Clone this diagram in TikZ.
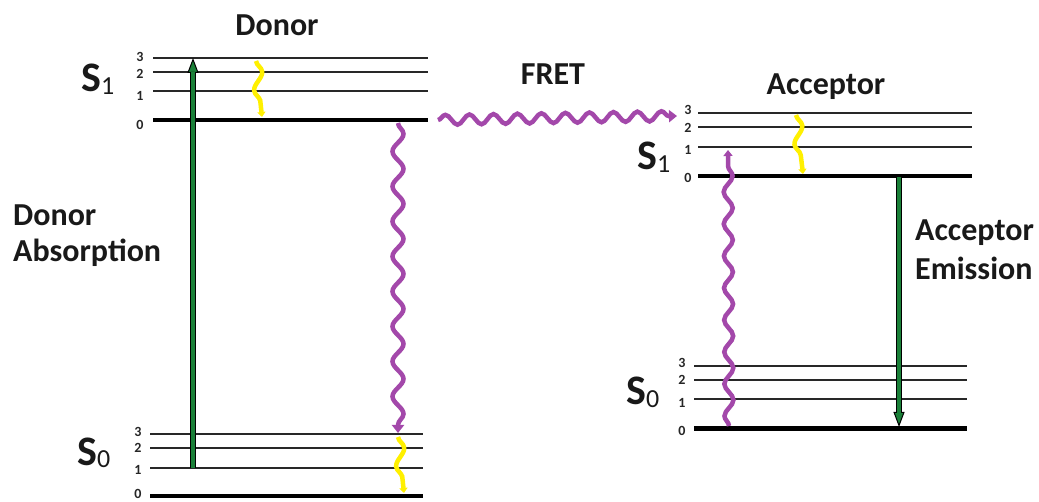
\documentclass[tikz,border=0pt]{standalone}
\usepackage{fontspec}
\setmainfont{Carlito}
\usetikzlibrary{arrows.meta,decorations.pathmorphing}

\definecolor{wavepurple}{RGB}{163,72,170}
\definecolor{vibyellow}{RGB}{255,240,0}
\definecolor{absgreen}{RGB}{26,128,56}
\definecolor{levelgray}{RGB}{40,40,40}

\tikzset{
  lvl0/.style={draw=black, line width=4.5pt},
  lvl1/.style={draw=levelgray, line width=2.2pt},
  lvl2/.style={lvl1},
  lvl3/.style={lvl1},
  vnum/.style={font=\fontsize{14}{14}\selectfont\bfseries, inner sep=0pt, text=black!85},
  slabel/.style={font=\fontsize{42}{42}\selectfont\bfseries, inner sep=0pt, anchor=base west, text=black!90},
  title/.style={font=\fontsize{32}{38}\selectfont\bfseries, inner sep=0pt, text=black!90},
  photon/.style={draw=wavepurple, line width=4.5pt, decorate,
    decoration={snake, amplitude=5.5pt, segment length=35pt, post length=7pt},
    -{Triangle[length=8pt,width=12pt]}},
  fretwave/.style={photon, decoration={snake, amplitude=5pt, segment length=24pt, post length=7pt}},
  accwave/.style={photon, decoration={snake, amplitude=4.5pt, segment length=32pt, post length=6pt},
    -{Triangle[length=6pt,width=9pt]}},
  relax/.style={draw=vibyellow, line width=4.5pt, decorate,
    decoration={snake, amplitude=5pt, segment length=36pt, post length=4pt},
    -{Triangle[length=5pt,width=8pt]}},
  greenedge/.style={draw=black, line width=5.5pt,
    -{Triangle[length=15pt,width=11pt,fill=absgreen,line width=1pt]}},
  greencore/.style={draw=absgreen, line width=3.2pt, shorten >=14pt},
}

\newcommand{\lvlsub}[2]{#1\raisebox{-2.5pt}{\mdseries\fontsize{26}{26}\selectfont #2}}

\begin{document}
\begin{tikzpicture}[x=1pt,y=-1pt]
\fill[white] (0,0) rectangle (1039,502);
\path[use as bounding box] (0,0) rectangle (1039,502);

% ---------------- donor ----------------
\foreach \n/\y/\ny in {0/120/125,1/91/96,2/72.3/74,3/58.3/57} {
  \coordinate (DS1-\n-w) at (153,\y);
  \coordinate (DS1-\n-e) at (428,\y);
  \draw[lvl\n] (DS1-\n-w) -- (DS1-\n-e);
  \node[vnum] (DS1-\n-num) at (140,\ny) {\n};
}
\foreach \n/\y/\ny in {0/496/494,1/467.7/470,2/448.3/448,3/434.3/432} {
  \coordinate (DS0-\n-w) at (150,\y);
  \coordinate (DS0-\n-e) at (423,\y);
  \draw[lvl\n] (DS0-\n-w) -- (DS0-\n-e);
  \node[vnum] (DS0-\n-num) at (138,\ny) {\n};
}
\node[slabel] (DS1) at (81,92) {\lvlsub{S}{1}};
\node[slabel] (DS0) at (77,465) {\lvlsub{S}{0}};

\node[title, anchor=base] (donor) at (277,36) {Donor};
\node[title, anchor=base west, align=left] (donorabs) at (13,262)
  {Donor\\[-1.3pt]Absorption};

% ---------------- acceptor ----------------
\foreach \n/\y/\ny in {0/176/178,1/146.7/150,2/127.3/128,3/112.7/110} {
  \coordinate (AS1-\n-w) at (698,\y);
  \coordinate (AS1-\n-e) at (972,\y);
  \draw[lvl\n] (AS1-\n-w) -- (AS1-\n-e);
  \node[vnum] (AS1-\n-num) at (688,\ny) {\n};
}
\foreach \n/\y/\ny in {0/428.3/431,1/399.3/403,2/380/380,3/365.7/363} {
  \coordinate (AS0-\n-w) at (694,\y);
  \coordinate (AS0-\n-e) at (967,\y);
  \draw[lvl\n] (AS0-\n-w) -- (AS0-\n-e);
  \node[vnum] (AS0-\n-num) at (682,\ny) {\n};
}
\node[slabel] (AS1) at (637,170) {\lvlsub{S}{1}};
\node[slabel] (AS0) at (626,405) {\lvlsub{S}{0}};

\node[title, anchor=base] (acceptor) at (826,95) {Acceptor};
\node[title, anchor=base west, align=left] (accem) at (915,280)
  {Acceptor\\[1.5pt]Emission};
\node[title, anchor=base] (fret) at (553,85) {FRET};

% ---------------- transitions ----------------
\coordinate (absFrom) at (193,467.7);
\coordinate (absTo)   at (193,58);
\draw[greenedge] (absFrom) -- (absTo);
\draw[greencore] (absFrom) -- (absTo);

\coordinate (emFrom) at (899,177);
\coordinate (emTo)   at (899,427);
\draw[greenedge] (emFrom) -- (emTo);
\draw[greencore] (emFrom) -- (emTo);

\coordinate (dvTop) at (256,61);
\coordinate (dvBot) at (262,117);
\draw[relax] (dvTop) -- (dvBot);

\coordinate (dgTop) at (398,437);
\coordinate (dgBot) at (404,493);
\draw[relax] (dgTop) -- (dgBot);

\coordinate (avTop) at (796,115);
\coordinate (avBot) at (803,174);
\draw[relax] (avTop) -- (avBot);

\coordinate (dfFrom) at (398,123);
\coordinate (dfTo)   at (398,433);
\draw[photon] (dfFrom) -- (dfTo);

\coordinate (fretFrom) at (438,120);
\coordinate (fretTo)   at (677,116);
\draw[fretwave] (fretFrom) -- (fretTo);

\coordinate (aaFrom) at (729,426);
\coordinate (aaTo)   at (728,150);
\draw[accwave] (aaFrom) -- (aaTo);
\end{tikzpicture}
\end{document}
